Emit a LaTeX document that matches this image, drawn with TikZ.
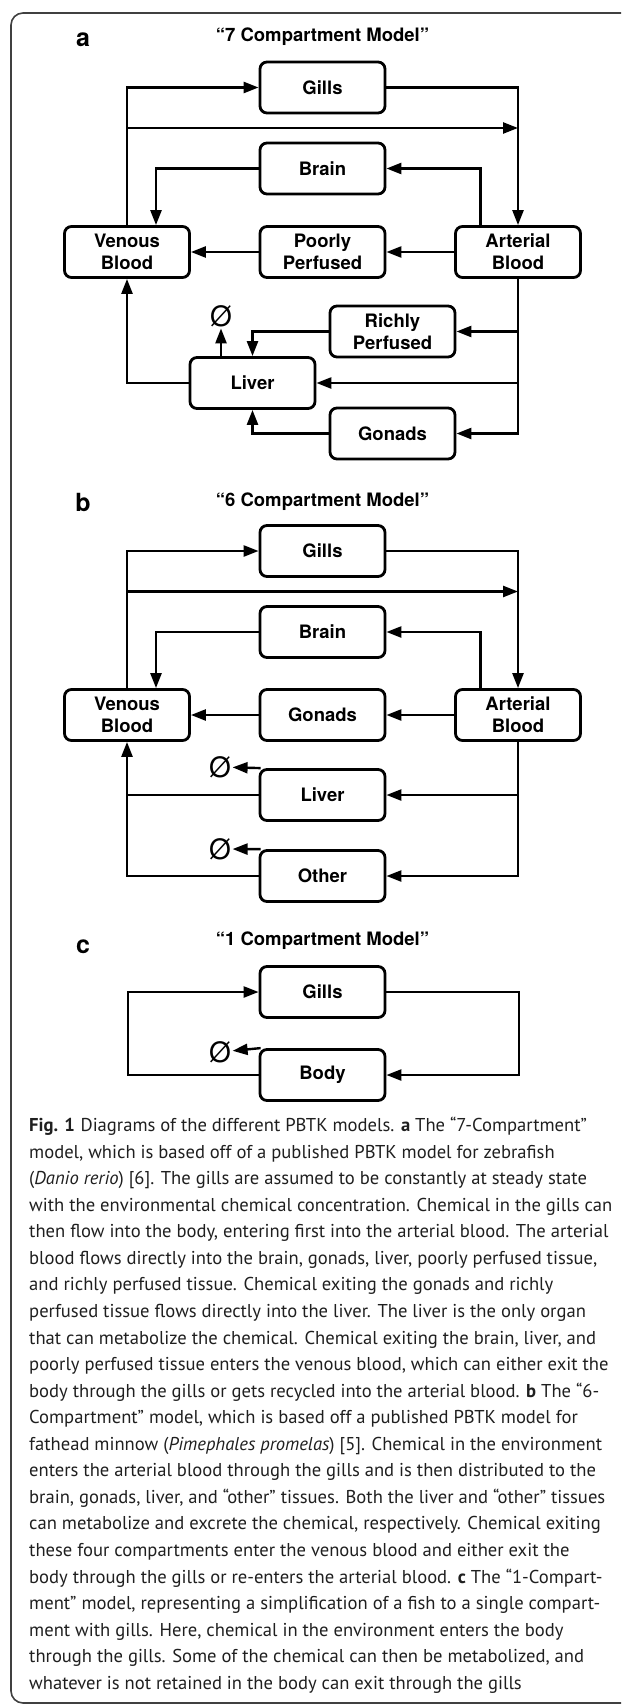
\documentclass[tikz,border=0pt]{standalone}
\usepackage{fontspec}
\setmainfont{TeX Gyre Heros}
\newfontfamily\capfont{PT Sans}
\usetikzlibrary{arrows.meta,positioning}

\begin{document}
\begin{tikzpicture}[x=1pt,y=-1pt,>={Triangle[length=15pt,width=11pt]},
                    line width=2.4pt,node distance=195.5pt,
                    comp/.style={draw,rounded corners=7pt,line width=2.8pt,
                      minimum width=125pt,minimum height=51pt,inner sep=0pt,
                      align=center,font=\fontsize{18.5}{22}\selectfont\bfseries},
                    ttl/.style={anchor=base,inner sep=0pt,
                      font=\fontsize{18.5}{22}\selectfont\bfseries},
                    lbl/.style={anchor=base,inner sep=0pt,
                      font=\fontsize{25}{25}\selectfont\bfseries},
                    phi/.style={inner sep=0.5pt,font=\fontsize{28}{28}\selectfont},
                    capt/.style={anchor=north west,inner sep=0pt,align=left,
                      text=black!88,font=\capfont\fontsize{18.6}{26.55}\selectfont}]

  \useasboundingbox (0,0) rectangle (621,1704);
  \clip (0,0) rectangle (621,1704);
  \draw[line width=1.6pt,black!75,rounded corners=12pt] (11,13) rectangle (700,1703);

  % a
  \node[lbl] (la) at (83,47)      {a};
  \node[ttl] (ta) at (322.5,41.7) {“7 Compartment Model”};
  \node[comp] (Ga) at (322.5,87.5) {Gills};
  \node[comp] (Ba) at (322.5,168.5) {Brain};
  \node[comp] (Pa) at (322.5,252)  {Poorly\\Perfused};
  \node[comp] (Va) [left of=Pa]    {Venous\\Blood};
  \node[comp] (Aa) [right of=Pa]   {Arterial\\Blood};
  \node[comp] (Ra) at (392.5,331.5) {Richly\\Perfused};
  \node[comp] (La) at (252.5,383)  {Liver};
  \node[comp] (Oa) at (392.5,433.5) {Gonads};
  \node[phi]  (Za) at (221,316)    {Ø};
  \coordinate (ya) at (0,128);

  \draw[->] (Va.north) |- (Ga.west);
  \draw[->] (Ga.east) -| (Aa.north);
  \draw[->] (Va.north |- ya) -- (Aa.north |- ya);
  \draw[->] ([xshift=-37.5pt]Aa.north) |- (Ba.east);
  \draw[->] (Ba.west) -| ([xshift=29pt]Va.north);
  \draw[->] (Aa) -- (Pa);
  \draw[->] (Pa) -- (Va);
  \draw[->] (Aa.south) |- (Ra.east);
  \draw[->] (Aa.south) |- (La.east);
  \draw[->] (Aa.south) |- (Oa.east);
  \draw[->] (Ra.west) -| (La.north);
  \draw[->] (Oa.west) -| (La.south);
  \draw[->] (La.west) -| (Va.south);
  \draw[->] (La.north -| Za) -- (Za);

  % b
  \node[lbl] (lb) at (83,511.5)   {b};
  \node[ttl] (tb) at (322.5,506.5) {“6 Compartment Model”};
  \node[comp] (Gb) at (322.5,551) {Gills};
  \node[comp] (Bb) at (322.5,632) {Brain};
  \node[comp] (Ob) at (322.5,715) {Gonads};
  \node[comp] (Vb) [left of=Ob]   {Venous\\Blood};
  \node[comp] (Ab) [right of=Ob]  {Arterial\\Blood};
  \node[comp] (Lb) at (322.5,795) {Liver};
  \node[comp] (Xb) at (322.5,876) {Other};
  \node[phi]  (Zb) at (220,767)   {Ø};
  \node[phi]  (Zx) at (220,849)   {Ø};
  \coordinate (yb) at (0,591.5);

  \draw[->] (Vb.north) |- (Gb.west);
  \draw[->] (Gb.east) -| (Ab.north);
  \draw[->] (Vb.north |- yb) -- (Ab.north |- yb);
  \draw[->] ([xshift=-37.5pt]Ab.north) |- (Bb.east);
  \draw[->] (Bb.west) -| ([xshift=29pt]Vb.north);
  \draw[->] (Ab) -- (Ob);
  \draw[->] (Ob) -- (Vb);
  \draw[->] (Ab.south) |- (Lb.east);
  \draw[->] (Ab.south) |- (Xb.east);
  \draw (Lb.west) -- (Lb.west -| Vb.south);
  \draw[->] (Xb.west) -| (Vb.south);
  \draw[->] ([xshift=2pt]Lb.north west) -- (Zb);
  \draw[->] ([xshift=2pt]Xb.north west) -- (Zx);

  % c
  \node[lbl] (lc) at (83,953)     {c};
  \node[ttl] (tc) at (322.5,945)  {“1 Compartment Model”};
  \node[comp] (Gc) at (322.5,992)  {Gills};
  \node[comp] (Yc) at (322.5,1075) {Body};
  \node[phi]  (Zc) at (220,1052)   {Ø};

  \draw[->] (Yc.west) -- ([xshift=-194.5pt]Yc.center) |- (Gc.west);
  \draw[->] (Gc.east) -- ([xshift=196.5pt]Gc.center) |- (Yc.east);
  \draw[->] ([xshift=2pt]Yc.north west) -- (Zc);

  \node[capt] (cap) at (28,1116) {%
\textbf{Fig. 1}\hspace{.3em}Diagrams of the different PBTK models. \textbf{a} The “7-Compartment”\\
model, which is based off of a published PBTK model for zebrafish\\
(\textit{Danio rerio}) [6]. The gills are assumed to be constantly at steady state\\
with the environmental chemical concentration. Chemical in the gills can\\
then flow into the body, entering first into the arterial blood. The arterial\\
blood flows directly into the brain, gonads, liver, poorly perfused tissue,\\
and richly perfused tissue. Chemical exiting the gonads and richly\\
perfused tissue flows directly into the liver. The liver is the only organ\\
that can metabolize the chemical. Chemical exiting the brain, liver, and\\
poorly perfused tissue enters the venous blood, which can either exit the\\
body through the gills or gets recycled into the arterial blood. \textbf{b} The “6-\\
Compartment” model, which is based off a published PBTK model for\\
fathead minnow (\textit{Pimephales promelas}) [5]. Chemical in the environment\\
enters the arterial blood through the gills and is then distributed to the\\
brain, gonads, liver, and “other” tissues. Both the liver and “other” tissues\\
can metabolize and excrete the chemical, respectively. Chemical exiting\\
these four compartments enter the venous blood and either exit the\\
body through the gills or re-enters the arterial blood. \textbf{c} The “1-Compart-\\
ment” model, representing a simplification of a fish to a single compart-\\
ment with gills. Here, chemical in the environment enters the body\\
through the gills. Some of the chemical can then be metabolized, and\\
whatever is not retained in the body can exit through the gills};
\end{tikzpicture}
\end{document}
